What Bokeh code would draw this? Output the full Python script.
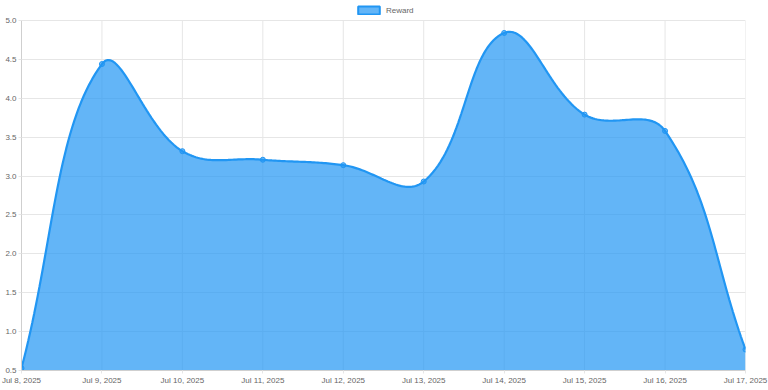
from bokeh.plotting import figure
from bokeh.models import (Legend, LegendItem, FixedTicker, SingleIntervalTicker,
                          NumeralTickFormatter, Range1d)
from bokeh.embed import file_html
from bokeh.resources import INLINE

# ---- data ----
dates = ["Jul 8, 2025", "Jul 9, 2025", "Jul 10, 2025", "Jul 11, 2025", "Jul 12, 2025",
         "Jul 13, 2025", "Jul 14, 2025", "Jul 15, 2025", "Jul 16, 2025", "Jul 17, 2025"]
reward = [0.53, 4.44, 3.32, 3.21, 3.14, 2.93, 4.84, 3.79, 3.58, 0.77]
y_min, y_max, y_step = 0.5, 5.0, 0.5
series_name = "Reward"

LINE = "#2196F3"
TEXT = "#666666"
GRID = "#e6e6e6"
FONT = "Liberation Sans"

# ---- Chart.js-style spline (tension 0.4), computed in pixel-like space ----
SX, SY = 80.44, 77.8   # approx px per x-step and per y-unit in the reference
tension = 0.4
xs = list(range(len(reward)))
pts = [(x * SX, y * SY) for x, y in zip(xs, reward)]
n = len(pts)
cps = []
for i in range(n):
    prev = pts[i - 1] if i > 0 else pts[i]
    cur = pts[i]
    nxt = pts[i + 1] if i < n - 1 else pts[i]
    d01 = ((cur[0] - prev[0]) ** 2 + (cur[1] - prev[1]) ** 2) ** 0.5
    d12 = ((nxt[0] - cur[0]) ** 2 + (nxt[1] - cur[1]) ** 2) ** 0.5
    tot = d01 + d12
    s01 = d01 / tot if tot else 0.0
    s12 = d12 / tot if tot else 0.0
    fa, fb = tension * s01, tension * s12
    cp_prev = (cur[0] - fa * (nxt[0] - prev[0]), cur[1] - fa * (nxt[1] - prev[1]))
    cp_next = (cur[0] + fb * (nxt[0] - prev[0]), cur[1] + fb * (nxt[1] - prev[1]))
    def cap(q):
        return (min(max(q[0], 0.0), (n - 1) * SX), min(max(q[1], y_min * SY), y_max * SY))
    cps.append((cap(cp_prev), cap(cp_next)))

cx, cy = [], []
steps = 40
for i in range(n - 1):
    p0, p3 = pts[i], pts[i + 1]
    p1, p2 = cps[i][1], cps[i + 1][0]
    for k in range(steps + (1 if i == n - 2 else 0)):
        t = k / steps
        a, b, c, d = (1 - t) ** 3, 3 * (1 - t) ** 2 * t, 3 * (1 - t) * t ** 2, t ** 3
        cx.append((a * p0[0] + b * p1[0] + c * p2[0] + d * p3[0]) / SX)
        cy.append((a * p0[1] + b * p1[1] + c * p2[1] + d * p3[1]) / SY)

# ---- figure ----
W, H = 768, 390
BL, BR, BT, BB = 21, 23, 0, 20
TOP_PAD = 20                      # px of legend room kept above the 5.0 line
frame_h = H - BT - BB
y_top = y_max + (y_max - y_min) * TOP_PAD / (frame_h - TOP_PAD)

p = figure(width=W, height=H, output_backend="svg", toolbar_location=None,
           x_range=Range1d(0, len(dates) - 1), y_range=Range1d(y_min, y_top),
           min_border_left=BL, min_border_right=BR, min_border_top=BT, min_border_bottom=BB)
p.outline_line_color = None
p.background_fill_color = "white"
p.border_fill_color = "white"

# vertical grid lines, limited to the value range
p.segment(x0=xs, y0=[y_min] * n, x1=xs, y1=[y_max] * n, line_color=GRID, line_width=1)

p.varea(x=cx, y1=y_min, y2=cy, fill_color=LINE, fill_alpha=0.7)
p.line(cx, cy, line_color=LINE, line_width=2.2)
p.scatter(xs, reward, size=5, fill_color=LINE, fill_alpha=0.6, line_color=LINE, line_width=1)
# legend swatch: a zero-size quad at the first point's base (only visible in the legend)
swatch = p.quad(left=[xs[0]], right=[xs[0]], top=[y_min], bottom=[y_min],
                fill_color=LINE, fill_alpha=0.7, line_color=LINE, line_width=2, line_alpha=0.0)
swatch_legend = p.quad(left=[xs[0]], right=[xs[0]], top=[y_min], bottom=[y_min],
                       fill_alpha=0.0, line_color=LINE, line_width=2)

# axes
p.xaxis.ticker = FixedTicker(ticks=xs)
p.xaxis.major_label_overrides = {i: d for i, d in enumerate(dates)}
p.yaxis.ticker = SingleIntervalTicker(interval=y_step)
p.yaxis.formatter = NumeralTickFormatter(format="0.0")
p.yaxis.bounds = (y_min, y_max)
for ax in (p.xaxis[0], p.yaxis[0]):
    ax.axis_line_color = "#cfcfcf"
    ax.axis_line_width = 1
    ax.major_tick_line_color = GRID
    ax.major_tick_out = 3
    ax.major_tick_in = 0
    ax.minor_tick_line_color = None
    ax.major_label_text_font = FONT
    ax.major_label_text_font_size = "8px"
    ax.major_label_text_color = TEXT
    ax.major_label_standoff = 2
p.yaxis.major_label_standoff = 1

p.xgrid.grid_line_color = None
p.ygrid.grid_line_color = GRID

legend = Legend(items=[LegendItem(label=series_name, renderers=[swatch, swatch_legend])],
                orientation="horizontal", location=(334, frame_h - 15),
                glyph_width=27, glyph_height=10, label_height=10,
                label_text_font=FONT, label_text_font_size="8px", label_text_color=TEXT,
                label_standoff=4, padding=0, margin=0, spacing=0,
                border_line_color=None, background_fill_alpha=0)
p.add_layout(legend, "center")

open("out.html", "w").write(file_html(p, INLINE))
